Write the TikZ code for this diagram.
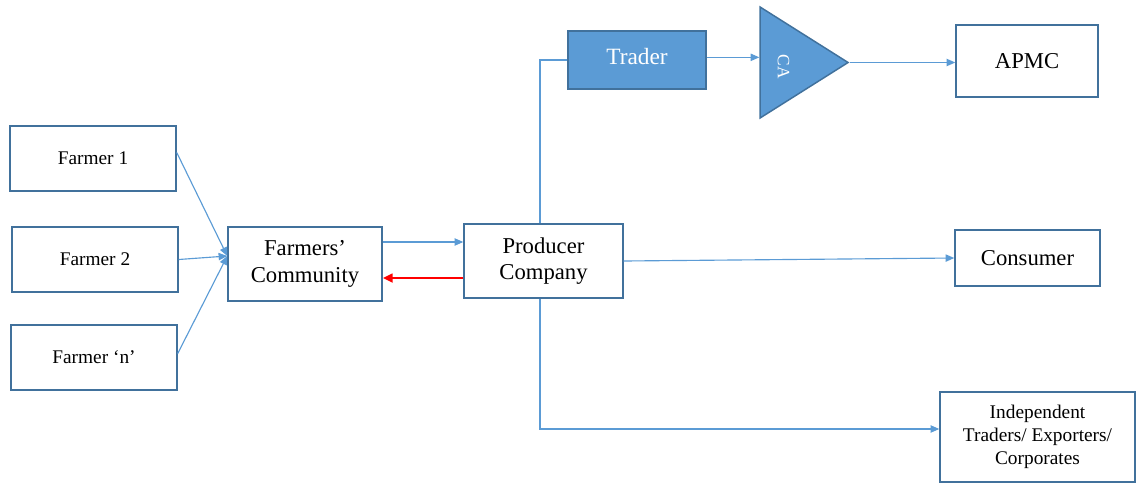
\documentclass[tikz,border=0pt]{standalone}
\usepackage{fontspec}
\setmainfont{Liberation Serif}
\usepackage{xcolor}
\usepackage{tikz}
\usetikzlibrary{arrows.meta,positioning,shapes.geometric,calc}
\definecolor{linkblue}{HTML}{5B9BD5}
\definecolor{edgeblue}{HTML}{41719C}
\definecolor{backred}{HTML}{FF0000}
\tikzset{
  actorbox/.style={
    rectangle, draw=edgeblue, fill=white, line width=1.1pt,
    minimum width=#1, align=center, inner sep=2pt
  },
  actorbox/.default=124.5pt,
  middlebox/.style={
    rectangle, draw=edgeblue, fill=linkblue, line width=1.1pt,
    text=white, align=center, inner sep=2pt
  },
  flow/.style={
    -{Triangle[length=6.5pt, width=5.5pt]}, line width=0.85pt, color=linkblue
  },
  link/.style={
    line width=0.85pt, color=linkblue
  },
  backflow/.style={
    -{Triangle[length=7.5pt, width=6.5pt]}, line width=2pt, color=backred
  },
}

\begin{document}
\begin{tikzpicture}[x=0.75pt, y=-0.75pt]
  \useasboundingbox (0,0) rectangle (1136,483);

  % ── Farmers ────────────────
  \node[actorbox, minimum height=48.75pt, font=\fontsize{14.5}{17}\selectfont]
    (f1) at (93,158.5) {Farmer 1};
  \node[actorbox, minimum height=48.75pt, font=\fontsize{14.5}{17}\selectfont]
    (f2) at (95,259.5) {Farmer 2};
  \node[actorbox, minimum height=48.75pt, font=\fontsize{14.5}{17}\selectfont]
    (fn) at (94,357.5) {Farmer `n'};

  % ── Community / Company ────
  \node[actorbox=115.5pt, minimum height=55.5pt,
        font=\fontsize{17}{20}\selectfont] (fc) at (305,264)
    {Farmers'\\Community};
  \node[actorbox=119.25pt, minimum height=55.5pt,
        font=\fontsize{17}{20}\selectfont] (pc) at (543.5,261)
    {Producer\\Company};

  % ── Trader / CA ────────────
  \node[middlebox, minimum width=103.5pt, minimum height=43.5pt,
        font=\fontsize{17.5}{20}\selectfont] (trader) at (637,60)
    {\raisebox{6pt}{Trader}};
  \node[isosceles triangle, isosceles triangle stretches,
        draw=edgeblue, fill=linkblue, line width=1.1pt, text=white,
        minimum width=83.25pt, minimum height=66pt, inner sep=0pt,
        anchor=apex, font=\fontsize{13}{15}\selectfont] (ca) at (850,62.5)
    {\raisebox{-6pt}{\rotatebox{-90}{CA}}};

  % ── Outlets ────────────────
  \node[actorbox=106.5pt, minimum height=54pt,
        font=\fontsize{17}{20}\selectfont] (apmc) at (1027,61) {APMC};
  \node[actorbox=108.75pt, minimum height=42pt,
        font=\fontsize{17}{20}\selectfont] (cons) at (1027.5,258) {Consumer};
  \node[actorbox=146.25pt, minimum height=67.5pt,
        font=\fontsize{14.5}{17}\selectfont] (indep) at (1037.5,437)
    {Independent\\Traders/ Exporters/\\Corporates};

  % ── Connectors ─────────────
  \coordinate (fcin) at ([yshift=6pt]fc.west);
  \draw[flow] ([yshift=4.5pt]f1.east) -- (fcin);
  \draw[flow] (f2.east) -- (fcin);
  \draw[flow] ([yshift=3pt]fn.east) -- (fcin);

  \coordinate (up) at ([yshift=16.5pt]fc.east);
  \draw[flow] (up) -- (up -| pc.west);
  \coordinate (back) at ([yshift=-12.75pt]pc.west);
  \draw[backflow] (back) -- (back -| fc.east);

  \draw[link] ([xshift=-2.6pt]pc.north) |- (trader.west);
  \coordinate (tout) at ([yshift=2pt]trader.east);
  \draw[flow] (tout) -- (tout -| ca.left corner);
  \draw[flow] (ca.apex) -- (ca.apex -| apmc.west);
  \draw[flow] (pc.east) -- (cons.west);
  \draw[flow] ([xshift=-2.6pt]pc.south) |- ([yshift=6pt]indep.west);
\end{tikzpicture}
\end{document}
